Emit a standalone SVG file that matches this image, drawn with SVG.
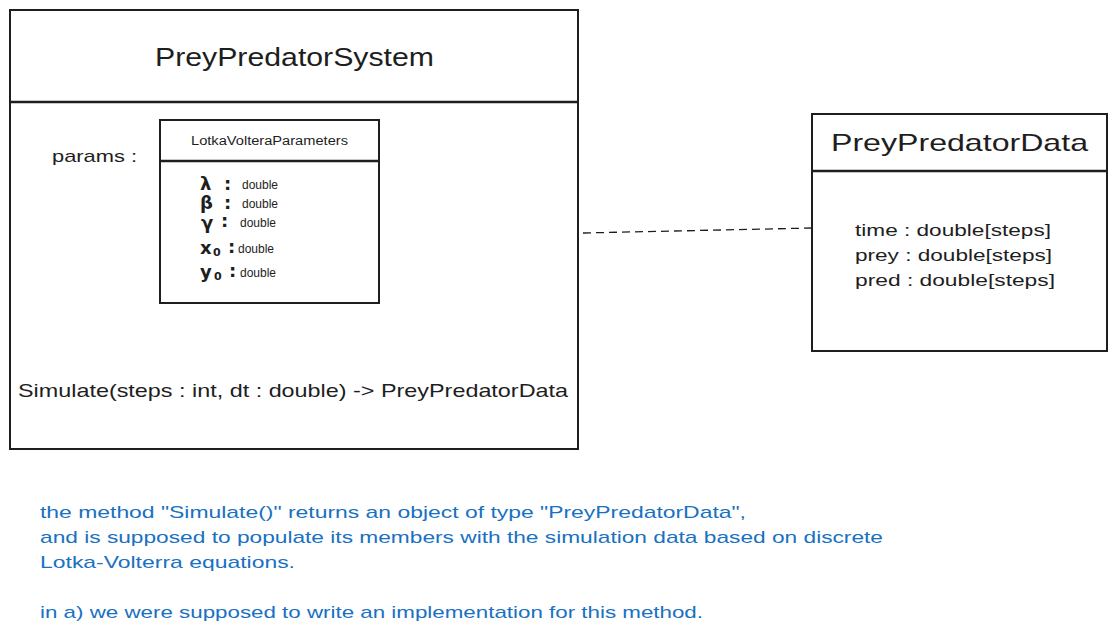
<svg xmlns="http://www.w3.org/2000/svg" width="1116" height="635" viewBox="0 0 1116 635">
<style>
.box{fill:#ffffff;stroke:#1e1e1e;stroke-width:2}
.div{stroke:#1e1e1e;stroke-width:2.6;fill:none}
.t{font-family:"Liberation Sans",Arial,sans-serif;fill:#1e1e1e}
.sym{font-family:"DejaVu Sans",sans-serif;font-weight:bold;fill:#1e1e1e;font-size:18px}
.note{font-family:"Liberation Sans",Arial,sans-serif;fill:#1971c2;font-size:17px}
.conn{stroke:#1e1e1e;stroke-width:1.3;fill:none;stroke-dasharray:8 5}
</style>
<rect width="1116" height="635" fill="#ffffff"/>
<g id="connectors">
<path class="conn" d="M583 233 L812 228"/>
</g>
<g id="PreyPredatorSystem">
<rect class="box" x="10" y="10" width="568" height="439"/>
<line class="div" x1="10" y1="102" x2="578" y2="102"/>
<text class="t" x="155" y="66" font-size="25" textLength="279" lengthAdjust="spacingAndGlyphs">PreyPredatorSystem</text>
<text class="t" x="52" y="162" font-size="17" textLength="85" lengthAdjust="spacingAndGlyphs">params :</text>
<text class="t" x="18" y="397" font-size="19" textLength="550" lengthAdjust="spacingAndGlyphs">Simulate(steps : int, dt : double) -&gt; PreyPredatorData</text>
</g>
<g id="LotkaVolteraParameters">
<rect class="box" x="160" y="120" width="219" height="183"/>
<line class="div" x1="160" y1="161" x2="379" y2="161"/>
<text class="t" x="191" y="145" font-size="12" textLength="157" lengthAdjust="spacingAndGlyphs">LotkaVolteraParameters</text>
<text class="sym" x="200" y="190">λ</text><text class="sym" x="224" y="190">:</text>
<text class="t" x="242" y="189" font-size="12">double</text>
<text class="sym" x="200" y="209">β</text><text class="sym" x="224" y="209">:</text>
<text class="t" x="242" y="208" font-size="12">double</text>
<text class="sym" x="201" y="229">γ</text><text class="sym" x="221" y="227" font-size="14">:</text>
<text class="t" x="240" y="227" font-size="12">double</text>
<text class="sym" x="200" y="254">x</text><text class="sym" x="213" y="256" font-size="11">₀</text><text class="sym" x="228" y="253" font-size="14">:</text>
<text class="t" x="238" y="253" font-size="12">double</text>
<text class="sym" x="200" y="278">y</text><text class="sym" x="214" y="280" font-size="11">₀</text><text class="sym" x="229" y="277" font-size="14">:</text>
<text class="t" x="240" y="277" font-size="12">double</text>
</g>
<g id="PreyPredatorData">
<rect class="box" x="812" y="114" width="295" height="237"/>
<line class="div" x1="812" y1="171" x2="1107" y2="171"/>
<text class="t" x="831" y="151" font-size="24" textLength="257" lengthAdjust="spacingAndGlyphs">PreyPredatorData</text>
<text class="t" x="855" y="236" font-size="17" textLength="196" lengthAdjust="spacingAndGlyphs">time : double[steps]</text>
<text class="t" x="855" y="261" font-size="17" textLength="197" lengthAdjust="spacingAndGlyphs">prey : double[steps]</text>
<text class="t" x="855" y="286" font-size="17" textLength="200" lengthAdjust="spacingAndGlyphs">pred : double[steps]</text>
</g>
<g id="note">
<text class="note" x="40" y="518" textLength="706" lengthAdjust="spacingAndGlyphs">the method "Simulate()" returns an object of type "PreyPredatorData",</text>
<text class="note" x="40" y="543" textLength="843" lengthAdjust="spacingAndGlyphs">and is supposed to populate its members with the simulation data based on discrete</text>
<text class="note" x="40" y="568" textLength="255" lengthAdjust="spacingAndGlyphs">Lotka-Volterra equations.</text>
<text class="note" x="40" y="618" textLength="663" lengthAdjust="spacingAndGlyphs">in a) we were supposed to write an implementation for this method.</text>
</g>
</svg>
